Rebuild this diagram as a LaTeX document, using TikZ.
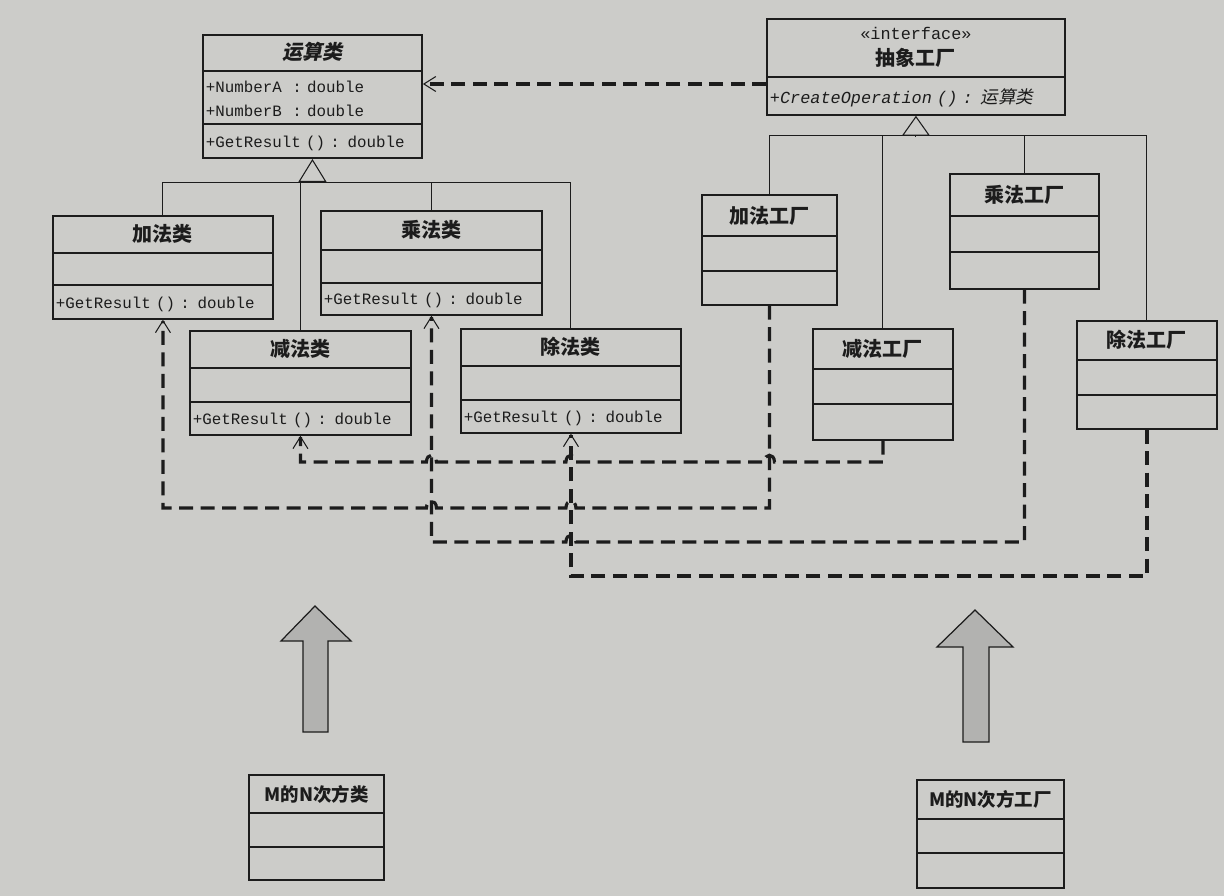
\documentclass[tikz,border=0pt]{standalone}
\usepackage{fontspec}
\setmainfont{Liberation Mono}
\newfontfamily\cjk{Noto Sans CJK SC}
\newfontfamily\cjksl{Noto Sans CJK SC}[FakeSlant=0.2]
\usetikzlibrary{shapes.multipart,arrows.meta,calc}
\definecolor{paper}{RGB}{204,204,201}
\definecolor{ink}{RGB}{28,28,28}
\definecolor{arrowgray}{RGB}{178,178,176}
\newcommand{\strutto}[1]{\rule[-0.3\dimexpr#1\relax]{0pt}{#1}}
\newcommand{\ctr}[1]{\makebox[\hsize][c]{#1}}
\newcommand{\ttl}[2]{\ctr{\strutto{#1}{\cjk\bfseries\fontsize{11.4}{13}\selectfont #2}}}

\begin{document}
\begin{tikzpicture}[x=0.02cm, y=-0.02cm,
  cls/.style = {draw=ink, line width=1.1pt, fill=paper, text=ink, rectangle split, rectangle split parts=3,
    anchor=north west, inner xsep=0.6mm, inner ysep=0pt, align=left, font=\fontsize{9}{10}\selectfont},
  gen/.style = {draw=ink, line width=0.6pt},
  dep/.style = {draw=ink, line width=1.8pt, dash pattern=on 2.8mm off 1.5mm,
    -{Straight Barb[length=2.4mm, width=3mm, line width=0.6pt]}},
  hop/.style = {to path={.. controls +(0,-9) and +(0,-9) .. (\tikztotarget) \tikztonodes}},
  bigarrow/.style = {draw=ink, line width=0.7pt, fill=arrowgray, line join=miter}]
\fill[paper] (0,0) rectangle (1224,896);
\useasboundingbox (0,0) rectangle (1224,896);

% products
\node[cls, text width=42.6mm] (op) at (202,34) {\ctr{\strutto{6.8mm}{\cjksl\bfseries\fontsize{11.4}{13}\selectfont 运算类}}
  \nodepart{two}\rule[-0.8mm]{0pt}{5mm}+NumberA~~: double\\\rule[-1.3mm]{0pt}{4.9mm}+NumberB~~: double
  \nodepart{three}\strutto{6.4mm}+GetResult () : double};
\node[cls, text width=42.8mm] (add) at (52,215) {\ttl{7mm}{加法类}\nodepart{two}\strutto{6mm}\nodepart{three}\strutto{6.4mm}+GetResult () : double};
\node[cls, text width=43mm] (sub) at (189,330) {\ttl{7mm}{减法类}\nodepart{two}\strutto{6.4mm}\nodepart{three}\strutto{6.2mm}+GetResult () : double};
\node[cls, text width=43mm] (mul) at (320,210) {\ttl{7.4mm}{乘法类}\nodepart{two}\strutto{6.2mm}\nodepart{three}\strutto{6mm}+GetResult () : double};
\node[cls, text width=42.8mm] (div) at (460,328) {\ttl{7mm}{除法类}\nodepart{two}\strutto{6.4mm}\nodepart{three}\strutto{6.2mm}+GetResult () : double};

% factories
\node[cls, rectangle split parts=2, text width=58.4mm] (absf) at (766,18) {\ctr{\rule[-0.5mm]{0pt}{4.5mm}{\fontsize{9.6}{11}\selectfont «interface»}}\\\ctr{\rule[-2.1mm]{0pt}{6.35mm}{\cjk\bfseries\fontsize{11.4}{13}\selectfont 抽象工厂}}
  \nodepart{two}\strutto{7.2mm}{\fontsize{9.6}{11}\selectfont\itshape +CreateOperation () : {\cjksl\fontsize{10}{11}\selectfont 运算类}}};
\node[cls, text width=25.8mm] (addf) at (701,194) {\ttl{7.8mm}{加法工厂}\nodepart{two}\strutto{6.6mm}\nodepart{three}\strutto{6.4mm}};
\node[cls, text width=26.8mm] (subf) at (812,328) {\ttl{7.6mm}{减法工厂}\nodepart{two}\strutto{6.6mm}\nodepart{three}\strutto{6.8mm}};
\node[cls, text width=28.6mm] (mulf) at (949,173) {\ttl{8mm}{乘法工厂}\nodepart{two}\strutto{6.8mm}\nodepart{three}\strutto{7mm}};
\node[cls, text width=26.8mm] (divf) at (1076,320) {\ttl{7.4mm}{除法工厂}\nodepart{two}\strutto{6.6mm}\nodepart{three}\strutto{6.4mm}};

% new pair
\node[cls, text width=25.8mm] (pow) at (248,774) {\ctr{\strutto{7.2mm}{\cjk\bfseries\fontsize{10.5}{12}\selectfont M的N次方类}}\nodepart{two}\strutto{6.4mm}\nodepart{three}\strutto{6.2mm}};
\node[cls, text width=28.2mm] (powf) at (916,779) {\ctr{\strutto{7.4mm}{\cjk\bfseries\fontsize{10.5}{12}\selectfont M的N次方工厂}}\nodepart{two}\strutto{6.4mm}\nodepart{three}\strutto{6.6mm}};

% inheritance
\coordinate (opbar) at ($(op.south)+(0,24)$);
\coordinate (absbar) at ($(absf.south)+(0,20)$);
\draw[gen, -{Triangle[open, length=4.6mm, width=5.6mm]}] (opbar) -- (op.south);
\draw[gen] (add.north) |- (opbar);
\draw[gen] (sub.north) |- (opbar);
\draw[gen] (mul.north) |- (opbar);
\draw[gen] (div.north) |- (opbar);
\draw[gen, -{Triangle[open, length=4mm, width=5.6mm]}] (absbar) -- (absf.south);
\draw[gen] (addf.north) |- (absbar);
\draw[gen] (subf.north) |- (absbar);
\draw[gen] (mulf.north) |- (absbar);
\draw[gen] (divf.north) |- (absbar);

% dependencies
\coordinate (yz) at (0,84);
\coordinate (yb) at (0,462);
\coordinate (ya) at (0,508);
\coordinate (yc) at (0,542);
\coordinate (yd) at (0,576);
\draw[dep] (absf.west |- yz) -- (op.east |- yz);
\draw[dep] (addf.south) -- (addf.south |- ya)
  -- ($(div.south |- ya)+(5,0)$) to[hop] ($(div.south |- ya)+(-5,0)$)
  -- ($(mul.south |- ya)+(5,0)$) to[hop] ($(mul.south |- ya)+(-5,0)$)
  -| (add.south);
\draw[dep] (subf.south) -- (subf.south |- yb)
  -- ($(addf.south |- yb)+(5,0)$) to[hop] ($(addf.south |- yb)+(-5,0)$)
  -- ($(div.south |- yb)+(5,0)$) to[hop] ($(div.south |- yb)+(-5,0)$)
  -- ($(mul.south |- yb)+(5,0)$) to[hop] ($(mul.south |- yb)+(-5,0)$)
  -| (sub.south);
\draw[dep] (mulf.south) -- (mulf.south |- yc)
  -- ($(div.south |- yc)+(5,0)$) to[hop] ($(div.south |- yc)+(-5,0)$)
  -| (mul.south);
\draw[dep] (divf.south) -- (divf.south |- yd) -| (div.south);

% extension arrows
\draw[bigarrow] (315,606) -- (351,641) -- (328,641) -- (328,732) -- (303,732) -- (303,641) -- (281,641) -- cycle;
\draw[bigarrow] (975,610) -- (1013,647) -- (989,647) -- (989,742) -- (963,742) -- (963,647) -- (937,647) -- cycle;
\end{tikzpicture}
\end{document}
